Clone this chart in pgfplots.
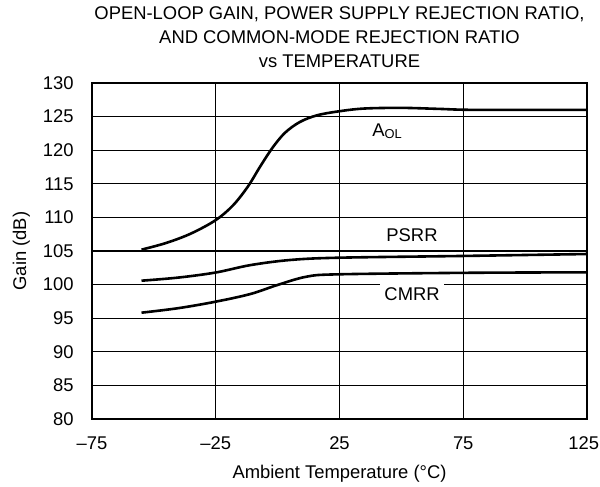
\documentclass[border=0pt]{standalone}
\usepackage{pgfplots}
\pgfplotsset{compat=1.18}
\usepackage{fontspec}
\setmainfont{Liberation Sans}
\begin{document}
\fontsize{9.2pt}{11pt}\selectfont
\begin{tikzpicture}
\path[use as bounding box] (-46pt,-34pt) rectangle (254pt,209.5pt);
\begin{axis}[
  at={(0,0)}, anchor=south west,
  scale only axis,
  clip mode=individual,
  width=247.5pt, height=168pt,
  xmin=-75, xmax=125, ymin=80, ymax=130,
  xtick={-75,-25,25,75,125},
  xticklabels={–75,–25,25,75,\hbox to 12pt{\hss 125}},
  ytick={80,85,...,130},
  /pgf/number format/assume math mode=true,
  grid=major,
  major grid style={black, line width=0.6pt},
  major tick length=0pt,
  axis line style={line width=1.4pt},
  tick label style={font=\fontsize{9.2pt}{11pt}\selectfont},
  xticklabel style={anchor=base, yshift=-15.5pt},
  yticklabel style={anchor=east, inner sep=0pt, xshift=-9pt},
  xlabel={Ambient Temperature (°C)},
  ylabel={Gain (dB)},
  xlabel style={at={(axis description cs:0.5,0)}, anchor=base, yshift=-29.5pt, font=\fontsize{9.2pt}{11pt}\selectfont},
  ylabel style={at={(axis description cs:-0.1333,0.5)}, anchor=base, rotate=0, font=\fontsize{9.2pt}{11pt}\selectfont},
]
\addplot[black, line width=1.3pt, smooth, tension=0.55] coordinates {
(-55,105.2) (-45,106.2) (-35,107.6) (-25,109.6) (-18,111.8) (-12,114.6) (-7,117.6) (-2,120.4) (3,122.6) (9,124.2) (16,125.2) (25,125.8) (35,126.2) (50,126.3) (65,126.15) (80,126.0) (125,126.0)};
\addplot[black, line width=1.3pt, smooth, tension=0.55] coordinates {
(-55,100.58) (-40,101.05) (-25,101.8) (-11,102.9) (5,103.66) (24.5,104.0) (74.4,104.26) (125,104.55)};
\addplot[black, line width=1.3pt, smooth, tension=0.55] coordinates {
(-55,95.82) (-40,96.5) (-25,97.46) (-11,98.6) (0,99.95) (11.7,101.18) (24.5,101.53) (75,101.75) (125,101.83)};
\node[anchor=base west, inner sep=0pt] at (axis cs:38.1,122.1) {A\textsubscript{OL}};
\node[anchor=base west, inner sep=0pt] at (axis cs:43.8,106.35) {PSRR};
\node[anchor=base west, fill=white, inner xsep=2pt, inner ysep=1.8pt] at (axis cs:41.4,97.7) {CMRR};
\node[anchor=base, inner sep=0pt] at (axis description cs:0.5,1.1875) {OPEN-LOOP GAIN, POWER SUPPLY REJECTION RATIO,};
\node[anchor=base, inner sep=0pt] at (axis description cs:0.5,1.1168) {AND COMMON-MODE REJECTION RATIO};
\node[anchor=base, inner sep=0pt] at (axis description cs:0.5,1.0461) {vs TEMPERATURE};
\end{axis}
\end{tikzpicture}
\end{document}
